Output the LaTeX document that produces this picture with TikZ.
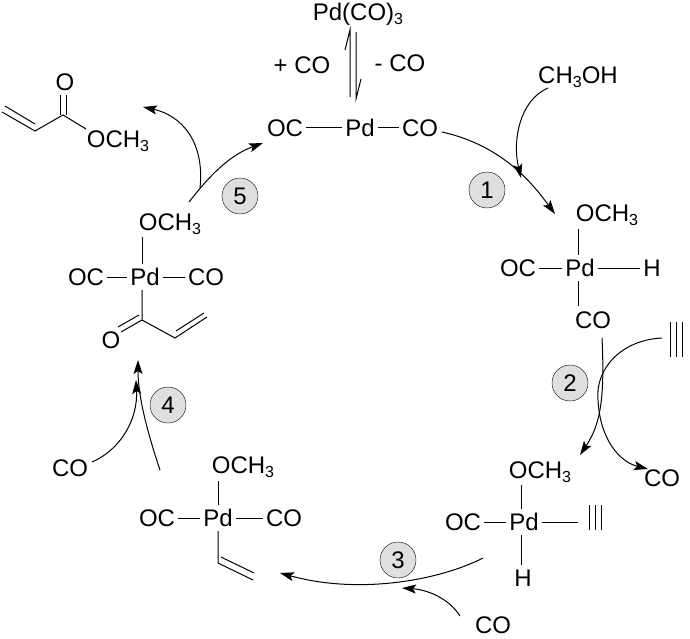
\documentclass[tikz,border=0pt]{standalone}
\usepackage{fontspec}
\setmainfont{Liberation Sans}
\usetikzlibrary{arrows.meta}
\newcommand{\sbs}[1]{\raisebox{-0.3ex}{\fontsize{16}{16}\selectfont #1}}
\begin{document}
\begin{tikzpicture}[x=1pt,y=-1pt,
  lbl/.style={inner sep=0pt,font=\fontsize{24}{26}\selectfont},
  num/.style={circle,draw,fill=gray!25,minimum size=36pt,inner sep=0pt,font=\fontsize{24}{26}\selectfont},
  bond/.style={line width=1pt},
  rx/.style={line width=1pt,-{Stealth[length=14pt,width=9pt,inset=3pt]}}]
\useasboundingbox (0,0) rectangle (690,639);
% top
\node[lbl] (pdco3) at (358,14) {Pd(CO)\sbs{3}};
\node[lbl] (pco) at (302,65) {+ CO};
\node[lbl] (mco) at (400,63) {- CO};
\node[lbl] (t1) at (285,128) {OC};
\node[lbl] (t2) at (360,128) {Pd};
\node[lbl] (t3) at (420,128) {CO};
\draw[bond] ([xshift=3]t1.east) -- ([xshift=-3]t2.west);
\draw[bond] ([xshift=3]t2.east) -- ([xshift=-3]t3.west);
\draw[bond] (350,97) -- (350,30) -- ++(-5,20);
\draw[bond] (356,32) -- (356,99) -- ++(5,-20);
% CH3OH
\node[lbl] (meoh) at (578,77) {CH\sbs{3}OH};
% complex 1
\node[lbl] (a0) at (607,215) {OCH\sbs{3}};
\node[lbl] (a1) at (580,268) {Pd};
\node[lbl] (a2) at (518,268) {OC};
\node[lbl] (a3) at (652,268) {H};
\node[lbl] (a4) at (593,320) {CO};
\draw[bond] (578,229) -- (578,255);
\draw[bond] (578,281) -- (578,306);
\draw[bond] ([xshift=3]a2.east) -- ([xshift=-3]a1.west);
\draw[bond] ([xshift=3]a1.east) -- ([xshift=-3]a3.west);
% alkyne 1
\draw[bond] (670,322) -- (670,357) (676,322) -- (676,357) (682,322) -- (682,357);
% complex 2
\node[lbl] (b0) at (540,472) {OCH\sbs{3}};
\node[lbl] (b1) at (524,522) {Pd};
\node[lbl] (b2) at (463,522) {OC};
\node[lbl] (b3) at (523,578) {H};
\draw[bond] (521,485) -- (521,509);
\draw[bond] (521,535) -- (521,565);
\draw[bond] ([xshift=3]b2.east) -- ([xshift=-3]b1.west);
\draw[bond] ([xshift=3]b1.east) -- (578,522);
\draw[bond] (589,505) -- (589,530) (595,505) -- (595,530) (601,505) -- (601,530);
\node[lbl] (co2) at (662,478) {CO};
% complex 3
\node[lbl] (c0) at (243,467) {OCH\sbs{3}};
\node[lbl] (c1) at (218,518) {Pd};
\node[lbl] (c2) at (157,518) {OC};
\node[lbl] (c3) at (284,518) {CO};
\draw[bond] (218,481) -- (218,505);
\draw[bond] ([xshift=3]c2.east) -- ([xshift=-3]c1.west);
\draw[bond] ([xshift=3]c1.east) -- ([xshift=-3]c3.west);
\draw[bond] (218,531) -- (218,563) -- (253,580);
\draw[bond] (221,557) -- (254,573);
\node[lbl] (co3) at (493,625) {CO};
% complex 4
\node[lbl] (d0) at (170,224) {OCH\sbs{3}};
\node[lbl] (d1) at (145,277) {Pd};
\node[lbl] (d2) at (86,277) {OC};
\node[lbl] (d3) at (206,277) {CO};
\node[lbl] (d4) at (111,340) {O};
\draw[bond] (142,237) -- (142,264);
\draw[bond] ([xshift=3]d2.east) -- ([xshift=-3]d1.west);
\draw[bond] ([xshift=3]d1.east) -- ([xshift=-3]d3.west);
\draw[bond] (142,290) -- (142,320) -- (175,338) -- (207,317);
\draw[bond] (142,320) -- (121,332) (139,315) -- (118,327);
\draw[bond] (176,331) -- (204,313);
\node[lbl] (co4) at (70,468) {CO};
% product
\node[lbl] (p0) at (65,82) {O};
\node[lbl] (p1) at (118,141) {OCH\sbs{3}};
\draw[bond] (2,112) -- (35,131) -- (63,115) -- (86,129);
\draw[bond] (5,106) -- (35,124);
\draw[bond] (60,115) -- (60,95) (66,115) -- (66,95);
% numbers
\node[num] (n1) at (487,190) {1};
\node[num] (n2) at (570,383) {2};
\node[num] (n3) at (398,560) {3};
\node[num] (n4) at (168,405) {4};
\node[num] (n5) at (240,196) {5};
% arrows
\draw[rx] (442,132) .. controls (500,145) and (530,180) .. (555,214);
\draw[rx] (548,88) .. controls (520,100) and (512,140) .. (521,178);
\draw[rx] (602,338) .. controls (605,400) and (600,425) .. (580,455);
\draw[rx] (662,338) .. controls (620,340) and (595,370) .. (598,400) .. controls (600,440) and (620,462) .. (648,469);
\draw[rx] (483,558) .. controls (440,580) and (360,595) .. (280,573);
\draw[rx] (460,616) .. controls (450,600) and (430,590) .. (402,588);
\draw[rx] (160,470) .. controls (150,440) and (138,400) .. (138,360);
\draw[rx] (92,462) .. controls (120,450) and (138,420) .. (136,380);
\draw[rx] (189,202) .. controls (210,175) and (230,155) .. (263,143);
\draw[rx] (200,188) .. controls (205,140) and (180,115) .. (143,107);
\end{tikzpicture}
\end{document}
